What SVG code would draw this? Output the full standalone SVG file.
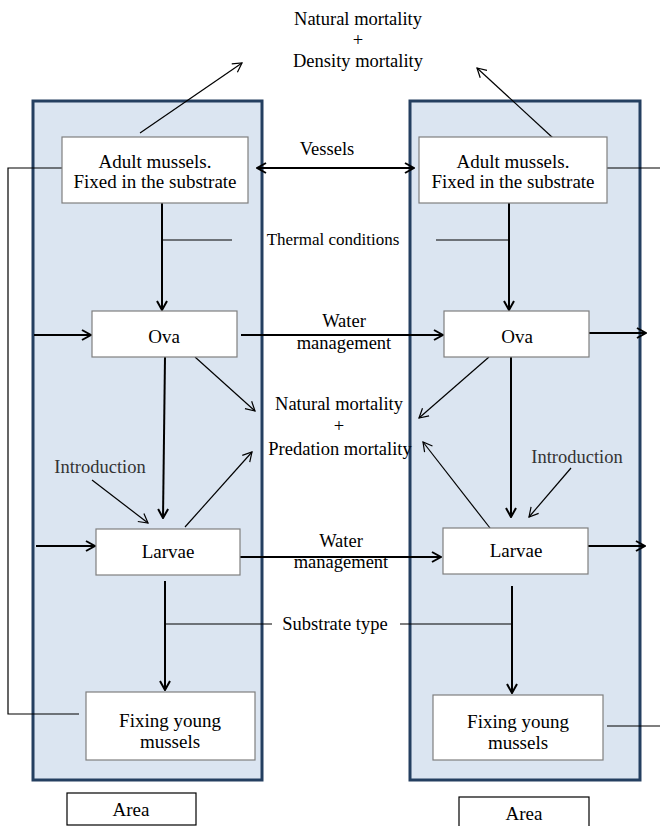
<svg xmlns="http://www.w3.org/2000/svg" width="660" height="826" viewBox="0 0 660 826">
<defs>
<style>
.panel{fill:#dbe5f1;stroke:#243f60;stroke-width:3}
.box{fill:#fff;stroke:#7f7f7f;stroke-width:1.2}
.abox{fill:#fff;stroke:#000;stroke-width:1.2}
text{font-family:"Liberation Serif","Times New Roman",serif;font-size:18.5px;fill:#000;text-anchor:middle}
.n{font-size:19px}
.sm{font-size:17px}
.g{fill:#333}
.thick{fill:none;stroke:#000;stroke-width:2}
.thin{fill:none;stroke:#000;stroke-width:1.2}
</style>
<marker id="ah" viewBox="0 0 12 12" refX="11" refY="6" markerWidth="12" markerHeight="12" markerUnits="userSpaceOnUse" orient="auto-start-reverse">
<path d="M2,1 L11,6 L2,11" fill="none" stroke="#000" stroke-width="2"/>
</marker>
<marker id="at" viewBox="0 0 12 12" refX="11" refY="6" markerWidth="12" markerHeight="12" markerUnits="userSpaceOnUse" orient="auto">
<path d="M2,1 L11,6 L2,11" fill="none" stroke="#000" stroke-width="1.2"/>
</marker>
</defs>
<rect width="660" height="826" fill="#fff"/>
<g id="panels">
<rect class="panel" x="33" y="101" width="229" height="679"/>
<rect class="panel" x="410" y="101" width="230" height="679"/>
</g>
<g id="connectors">
<line class="thin" x1="140" y1="133" x2="242" y2="63" marker-end="url(#at)"/>
<line class="thin" x1="553" y1="138" x2="477" y2="68" marker-end="url(#at)"/>
<line class="thick" x1="257" y1="168" x2="414" y2="168" marker-start="url(#ah)" marker-end="url(#ah)"/>
<polyline class="thin" points="62,168 8,168 8,714 79,714"/>
<line class="thin" x1="607" y1="168" x2="660" y2="168"/>
<line class="thin" x1="607" y1="726" x2="660" y2="726"/>
<line class="thick" x1="162" y1="203" x2="162" y2="310" marker-end="url(#ah)"/>
<line class="thin" x1="162" y1="240" x2="232" y2="240"/>
<line class="thick" x1="509" y1="203" x2="509" y2="310" marker-end="url(#ah)"/>
<line class="thin" x1="436" y1="240" x2="509" y2="240"/>
<line class="thick" x1="34" y1="335" x2="91" y2="335" marker-end="url(#ah)"/>
<line class="thick" x1="241" y1="335" x2="443" y2="335" marker-end="url(#ah)"/>
<line class="thick" x1="589" y1="333" x2="646" y2="333" marker-end="url(#ah)"/>
<line class="thick" x1="165" y1="357" x2="163" y2="518" marker-end="url(#ah)"/>
<line class="thick" x1="511" y1="357" x2="511" y2="517" marker-end="url(#ah)"/>
<line class="thin" x1="195" y1="357" x2="255" y2="411" marker-end="url(#at)"/>
<line class="thin" x1="185" y1="527" x2="252" y2="452" marker-end="url(#at)"/>
<line class="thin" x1="489" y1="357" x2="419" y2="418" marker-end="url(#at)"/>
<line class="thin" x1="490" y1="528" x2="423" y2="442" marker-end="url(#at)"/>
<line class="thin" x1="92" y1="480" x2="148" y2="523" marker-end="url(#at)"/>
<line class="thin" x1="571" y1="468" x2="529" y2="517" marker-end="url(#at)"/>
<line class="thick" x1="36" y1="546" x2="95" y2="546" marker-end="url(#ah)"/>
<line class="thick" x1="240" y1="557" x2="441" y2="557" marker-end="url(#ah)"/>
<line class="thick" x1="588" y1="546" x2="645" y2="546" marker-end="url(#ah)"/>
<line class="thick" x1="165" y1="581" x2="165" y2="690" marker-end="url(#ah)"/>
<line class="thin" x1="165" y1="624" x2="272" y2="624"/>
<line class="thick" x1="512" y1="586" x2="512" y2="693" marker-end="url(#ah)"/>
<line class="thin" x1="400" y1="624" x2="512" y2="624"/>
</g>
<g id="labels">
<text x="358" y="25">Natural mortality</text>
<text x="358" y="46">+</text>
<text x="358" y="67">Density mortality</text>
<text x="327" y="155">Vessels</text>
<text class="sm" x="333" y="245">Thermal conditions</text>
<text x="344" y="327">Water</text>
<text x="344" y="349">management</text>
<text x="339" y="410">Natural mortality</text>
<text x="339" y="432">+</text>
<text x="340" y="455">Predation mortality</text>
<text class="g" x="100" y="473">Introduction</text>
<text class="g" x="577" y="463">Introduction</text>
<text x="341" y="547">Water</text>
<text x="341" y="568">management</text>
<text x="335" y="630">Substrate type</text>
</g>
<g id="adult-left">
<rect class="box" x="62" y="137" width="186" height="66"/>
<text class="n" x="155" y="168">Adult mussels.</text>
<text class="n" x="155" y="188">Fixed in the substrate</text>
</g>
<g id="adult-right">
<rect class="box" x="419" y="137" width="188" height="66"/>
<text class="n" x="513" y="168">Adult mussels.</text>
<text class="n" x="513" y="188">Fixed in the substrate</text>
</g>
<g id="ova-left">
<rect class="box" x="92" y="311" width="145" height="46"/>
<text class="n" x="164" y="343">Ova</text>
</g>
<g id="ova-right">
<rect class="box" x="444" y="311" width="145" height="46"/>
<text class="n" x="517" y="343">Ova</text>
</g>
<g id="larvae-left">
<rect class="box" x="96" y="529" width="144" height="46"/>
<text class="n" x="168" y="558">Larvae</text>
</g>
<g id="larvae-right">
<rect class="box" x="443" y="528" width="145" height="46"/>
<text class="n" x="516" y="557">Larvae</text>
</g>
<g id="fixing-left">
<rect class="box" x="86" y="692" width="169" height="68"/>
<text class="n" x="170" y="727">Fixing young</text>
<text class="n" x="170" y="748">mussels</text>
</g>
<g id="fixing-right">
<rect class="box" x="433" y="695" width="170" height="65"/>
<text class="n" x="518" y="728">Fixing young</text>
<text class="n" x="518" y="749">mussels</text>
</g>
<g id="area-left">
<rect class="abox" x="67" y="793" width="129" height="32"/>
<text class="n" x="131" y="816">Area</text>
</g>
<g id="area-right">
<rect class="abox" x="459" y="797" width="130" height="34"/>
<text class="n" x="524" y="820">Area</text>
</g>
</svg>
